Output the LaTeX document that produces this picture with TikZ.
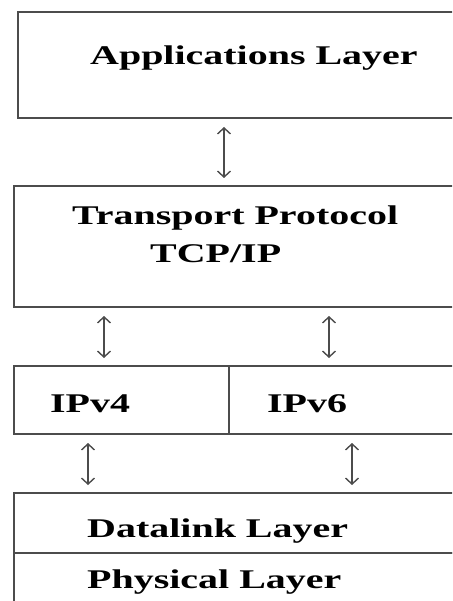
\documentclass[tikz,border=0pt]{standalone}
\usepackage{fontspec}
\setmainfont[FakeStretch=1.48]{Liberation Serif}
\usetikzlibrary{arrows.meta,positioning}

\begin{document}
\begin{tikzpicture}[x=1pt,y=-1pt,>={Straight Barb[length=6pt,width=13pt]}]
	\tikzstyle{layer}=[draw=black!70,line width=2pt,rectangle,anchor=north west,inner sep=0pt]
	\tikzstyle{layertext}=[font=\fontsize{27}{30}\selectfont\bfseries,anchor=base west,inner sep=0pt]
	\tikzstyle{updown}=[<->,draw=black!70,line width=1.4pt,shorten >=7pt,shorten <=8pt]
	\useasboundingbox (0,0) rectangle (452,601);
	\clip (0,0) rectangle (452,601);
	\fill[white] (0,0) rectangle (452,601);
	% layers
	\node[layer,minimum width=480pt,minimum height=106pt] (app) at (17,11) {};
	\node[layer,minimum width=480pt,minimum height=121pt] (tcp) at (13,185) {};
	\node[layer,minimum width=215pt,minimum height=68pt] (ipv4) at (13,365) {};
	\node[layer,minimum width=260pt,minimum height=68pt] (ipv6) at (228,365) {};
	\node[layer,minimum width=480pt,minimum height=60pt] (datalink) at (13,492) {};
	\node[layer,minimum width=480pt,minimum height=70pt] (physical) at (13,552) {};
	% texts
	\node[layertext] (apptext) at (90,65) {Applications Layer};
	\node[layertext] (tcptext) at (72,225) {Transport Protocol};
	\node[layertext] (tcpiptext) at (150,262) {TCP/IP};
	\node[layertext] (ipv4text) at (50,412) {IPv4};
	\node[layertext] (ipv6text) at (267,412) {IPv6};
	\node[layertext] (datalinktext) at (87,537) {Datalink Layer};
	\node[layertext] (physicaltext) at (87,588) {Physical Layer};
	% arrows
	\coordinate (c1) at (224,0);
	\coordinate (c2) at (104,0);
	\coordinate (c3) at (329,0);
	\coordinate (c4) at (88,0);
	\coordinate (c5) at (352,0);
	\draw[updown] (app.south -| c1) -- (tcp.north -| c1);
	\draw[updown] (tcp.south -| c2) -- (ipv4.north -| c2);
	\draw[updown] (tcp.south -| c3) -- (ipv6.north -| c3);
	\draw[updown] (ipv4.south -| c4) -- (datalink.north -| c4);
	\draw[updown] (ipv6.south -| c5) -- (datalink.north -| c5);
\end{tikzpicture}
\end{document}
